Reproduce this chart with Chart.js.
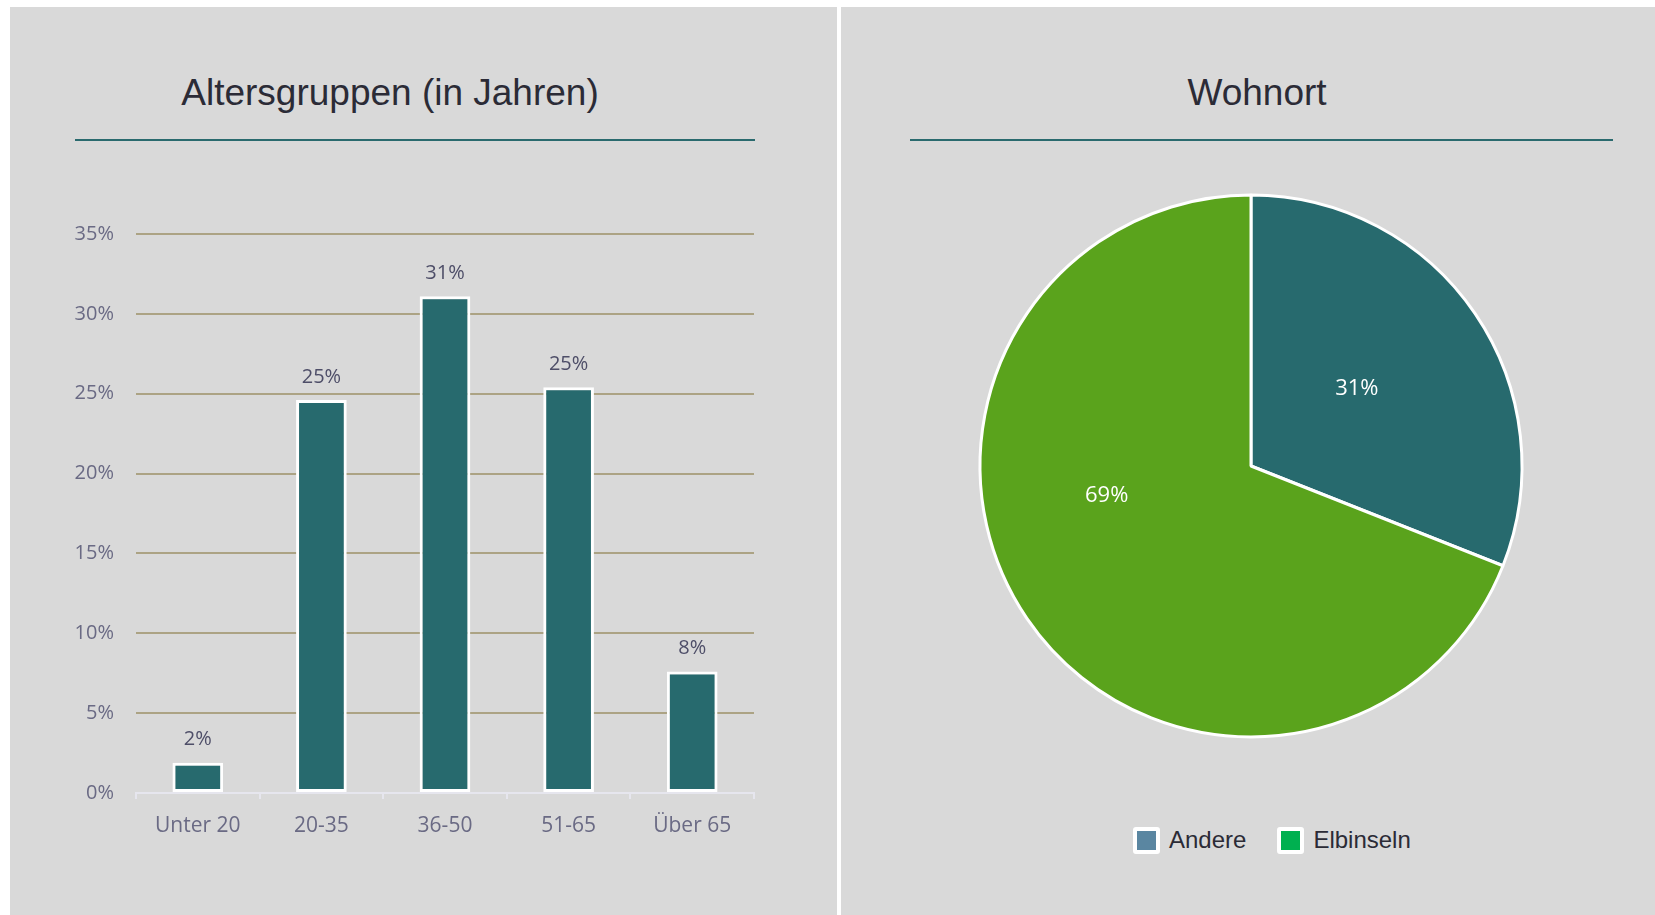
<!DOCTYPE html>
<html lang="de">
<head>
<meta charset="UTF-8">
<title>Altersgruppen und Wohnort</title>
<script src="https://cdn.jsdelivr.net/npm/chart.js"></script>
<style>
  body { margin: 0; width: 1655px; height: 915px; background: #ffffff; position: relative; overflow: hidden; }
  .panel { position: absolute; background: #d9d9d9; }
  .title { position: absolute; width: 440px; text-align: center; font-family: "Liberation Sans", Arial, sans-serif;
           font-size: 37px; line-height: 37px; color: #2b2b36; top: 74px; }
  .rule { position: absolute; height: 2px; background: #2a6a6e; top: 139px; }
  .box { position: absolute; }
  .legend { position: absolute; left: 1133px; top: 826px; display: flex; align-items: center;
            font-family: "Liberation Sans", Arial, sans-serif; font-size: 24px; color: #2b2b36; }
  .legend .item { display: flex; align-items: center; margin-right: 31px; }
  .legend .swatch { width: 19px; height: 19px; border: 4px solid #ffffff; border-radius: 3px; margin-right: 9px; }
</style>
</head>
<body>
<div class="panel" style="left:10px; top:7px; width:827px; height:908px;"></div>
<div class="panel" style="left:841px; top:7px; width:814px; height:908px;"></div>

<div class="title" style="left:170px;">Altersgruppen (in Jahren)</div>
<div class="rule" style="left:75px; width:680px;"></div>
<div class="title" style="left:1037px;">Wohnort</div>
<div class="rule" style="left:910px; width:703px;"></div>

<div class="box" style="left:20px; top:200px; width:760px; height:680px;"><canvas id="ageChart"></canvas></div>
<div class="box" style="left:951px; top:166px; width:600px; height:600px;"><canvas id="placeChart"></canvas></div>
<div class="legend" id="placeLegend"></div>

<script>
const ageGroups = ['Unter 20', '20-35', '36-50', '51-65', 'Über 65'];
const ageShares = [1.9, 24.6, 31.1, 25.4, 7.6];
const yTicks = [0, 5, 10, 15, 20, 25, 30, 35];

const places = ['Andere', 'Elbinseln'];
const placeShares = [31, 69];
const sliceColors = ['#276a6e', '#5aa31c'];
const legendColors = ['#5a86a1', '#00b050'];

Chart.defaults.font.family = '"Open Sans", sans-serif';
Chart.defaults.animation = false;

const tickColor = '#6a6a84';
const gridColor = '#aca384';
const axisColor = '#e6e6ee';

// value labels above the bars
const barValueLabels = {
  id: 'barValueLabels',
  afterDatasetsDraw(chart) {
    const ctx = chart.ctx;
    ctx.save();
    ctx.font = '20px "Open Sans"';
    ctx.fillStyle = '#4e4e68';
    ctx.textAlign = 'center';
    ctx.textBaseline = 'middle';
    chart.getDatasetMeta(0).data.forEach((bar, i) => {
      ctx.fillText(Math.round(ageShares[i]) + '%', bar.x, bar.y - 23);
    });
    ctx.restore();
  }
};

new Chart(document.getElementById('ageChart'), {
  type: 'bar',
  data: {
    labels: ageGroups,
    datasets: [{
      data: ageShares,
      backgroundColor: '#276a6e',
      borderColor: '#ffffff',
      borderWidth: 3,
      borderSkipped: false,
      barPercentage: 0.41,
      categoryPercentage: 1
    }]
  },
  options: {
    responsive: true,
    maintainAspectRatio: false,
    layout: { padding: { left: 20, right: 26, top: 34, bottom: 37 } },
    plugins: { legend: { display: false }, tooltip: { enabled: false } },
    scales: {
      x: {
        grid: { drawOnChartArea: false, drawTicks: true, tickLength: 6, color: axisColor, lineWidth: 2 },
        border: { display: true, color: axisColor, width: 2 },
        ticks: { color: tickColor, font: { size: 21 }, padding: 14 },
        afterFit: (scale) => { scale.height = 50; }
      },
      y: {
        min: yTicks[0],
        max: yTicks[yTicks.length - 1],
        afterBuildTicks: (scale) => { scale.ticks = yTicks.map(v => ({ value: v })); },
        grid: {
          drawTicks: false,
          lineWidth: 2,
          color: (c) => (c.tick && c.tick.value === 0) ? 'rgba(0,0,0,0)' : gridColor
        },
        border: { display: false },
        ticks: { color: tickColor, font: { size: 20 }, padding: 22, callback: (v) => v + '%' },
        afterFit: (scale) => { scale.width = 96; }
      }
    }
  },
  plugins: [barValueLabels]
});

// percent labels inside the slices
const pieLabels = {
  id: 'pieLabels',
  afterDatasetsDraw(chart, args, opts) {
    const ctx = chart.ctx;
    ctx.save();
    ctx.font = '22px "Open Sans"';
    ctx.fillStyle = '#ffffff';
    ctx.textAlign = 'center';
    ctx.textBaseline = 'middle';
    chart.getDatasetMeta(0).data.forEach((arc, i) => {
      const p = opts.placement[i];
      const a = (arc.startAngle + arc.endAngle) / 2 + p.shift * Math.PI / 180;
      const r = arc.outerRadius * p.frac;
      ctx.fillText(placeShares[i] + '%', arc.x + Math.cos(a) * r, arc.y + Math.sin(a) * r + 2);
    });
    ctx.restore();
  }
};

new Chart(document.getElementById('placeChart'), {
  type: 'pie',
  data: {
    labels: places,
    datasets: [{
      data: placeShares,
      backgroundColor: sliceColors,
      borderColor: '#ffffff',
      borderWidth: 3
    }]
  },
  options: {
    responsive: true,
    maintainAspectRatio: false,
    radius: 271,
    plugins: {
      legend: { display: false },
      tooltip: { enabled: false },
      pieLabels: { placement: [{ shift: -2.5, frac: 0.487 }, { shift: 23.5, frac: 0.542 }] }
    }
  },
  plugins: [pieLabels]
});

// legend (its colours differ from the slices in the original)
const legendEl = document.getElementById('placeLegend');
places.forEach((name, i) => {
  const item = document.createElement('div');
  item.className = 'item';
  const sw = document.createElement('span');
  sw.className = 'swatch';
  sw.style.background = legendColors[i];
  const label = document.createElement('span');
  label.textContent = name;
  item.appendChild(sw);
  item.appendChild(label);
  legendEl.appendChild(item);
});
</script>
</body>
</html>
